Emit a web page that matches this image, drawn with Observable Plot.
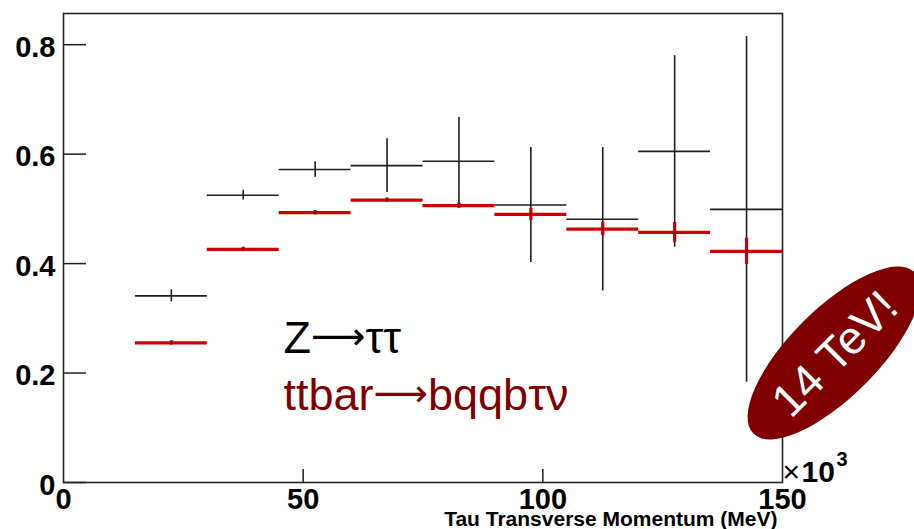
<!DOCTYPE html>
<html>
<head>
<meta charset="utf-8">
<script src="https://cdn.jsdelivr.net/npm/d3@7"></script>
<script src="https://cdn.jsdelivr.net/npm/@observablehq/plot@0.6"></script>
<style>
  html, body { margin: 0; padding: 0; background: #fff; }
  #chart { position: relative; width: 914px; height: 529px; overflow: hidden; }
  svg { display: block; }
</style>
</head>
<body>
<div id="chart"></div>
<script>
// Bin edges (×10^3 MeV)
const binLo = [15, 30, 45, 60, 75, 90, 105, 120, 135];
const binHi = [30, 45, 60, 75, 90, 105, 120, 135, 150];
// Z→ττ (black)
const zValues = [0.341, 0.525, 0.572, 0.579, 0.587, 0.507, 0.481, 0.605, 0.499];
const zErrors = [0.011, 0.009, 0.014, 0.049, 0.080, 0.105, 0.131, 0.175, 0.316];
// ttbar→bqqbτν (red)
const ttValues = [0.255, 0.426, 0.493, 0.516, 0.506, 0.490, 0.463, 0.457, 0.4225];
const ttErrors = [0.002, 0.003, 0.003, 0.004, 0.005, 0.011, 0.012, 0.018, 0.024];
// Axis ticks
const xTicks = [0, 50, 100, 150];
const xInnerTicks = [50, 100];
const yTicks = [0, 0.2, 0.4, 0.6, 0.8];
const xLabel = "Tau Transverse Momentum (MeV)";
const legendZ = "Z→ττ";
const legendTT = "ttbar→bqqbτν";

const zData = binLo.map((lo, i) => ({lo, hi: binHi[i], c: (lo + binHi[i]) / 2, v: zValues[i], e: zErrors[i]}));
const ttData = binLo.map((lo, i) => ({lo, hi: binHi[i], c: (lo + binHi[i]) / 2, v: ttValues[i], e: ttErrors[i]}));

const W = 914, H = 529;
const mL = 63, mR = 132, mT = 13, mB = 47;
const plotW = W - mL - mR, plotH = H - mT - mB;
const black = "#1e1e1e", red = "#c80000", dark = "#800000";
const font = "'Liberation Sans', Arial, Helvetica, sans-serif";

const plot = Plot.plot({
  width: W, height: H,
  marginLeft: mL, marginRight: mR, marginTop: mT, marginBottom: mB,
  style: {fontFamily: font, fontWeight: "bold", background: "#fff", color: "#000"},
  x: {domain: [0, 150]},
  y: {domain: [0, 0.857]},
  marks: [
    // inner ticks
    Plot.tickY(yTicks, {stroke: black, strokeWidth: 1.5, insetRight: plotW - 23}),
    Plot.tickX(xInnerTicks, {stroke: black, strokeWidth: 1.5, insetTop: plotH - 13}),
    // tick labels
    Plot.axisY({ticks: yTicks, tickSize: 0, tickPadding: 8, fontSize: 29, fontWeight: "bold", dy: 3,
      tickFormat: d => d === 0 ? "0" : d.toFixed(1), label: null}),
    Plot.axisX({ticks: xTicks, tickSize: 0, tickPadding: 6, fontSize: 29, fontWeight: "bold",
      tickFormat: d => String(d), label: null}),
    // Z→ττ
    Plot.ruleY(zData, {y: "v", x1: "lo", x2: "hi", stroke: black, strokeWidth: 1.6}),
    Plot.ruleX(zData, {x: "c", y1: d => d.v - d.e, y2: d => d.v + d.e, stroke: black, strokeWidth: 1.6}),
    // ttbar
    Plot.ruleY(ttData, {y: "v", x1: "lo", x2: "hi", stroke: red, strokeWidth: 3.2}),
    Plot.ruleX(ttData, {x: "c", y1: d => d.v - Math.max(d.e, 0.004), y2: d => d.v + Math.max(d.e, 0.004), stroke: red, strokeWidth: 3.2}),
    Plot.dot(ttData, {x: "c", y: "v", r: 0.9, fill: "#000", stroke: null}),
    // frame
    Plot.frame({stroke: "#222", strokeWidth: 1.6}),
    // axis title and multiplier
    Plot.text([xLabel], {frameAnchor: "bottom-right", textAnchor: "end", lineAnchor: "bottom", dx: -5, dy: 43,
      fontSize: 21, fontWeight: "bold", fill: "#000"}),
    Plot.text(["×"], {frameAnchor: "bottom-right", textAnchor: "start", lineAnchor: "bottom", dx: 0, dy: -1,
      fontSize: 30, fontWeight: "normal", fill: "#000"}),
    Plot.text(["10"], {frameAnchor: "bottom-right", textAnchor: "start", lineAnchor: "bottom", dx: 19, dy: -1,
      fontSize: 30, fontWeight: "bold", fill: "#000"}),
    Plot.text(["3"], {frameAnchor: "bottom-right", textAnchor: "start", lineAnchor: "bottom", dx: 54, dy: -17,
      fontSize: 20, fontWeight: "bold", fill: "#000"}),
    // legend texts
    Plot.text([legendZ], {frameAnchor: "top-left", textAnchor: "start", lineAnchor: "bottom", dx: 220, dy: 339,
      fontSize: 45, fontWeight: "normal", fill: "#000"}),
    Plot.text([legendTT], {frameAnchor: "top-left", textAnchor: "start", lineAnchor: "bottom", dx: 220, dy: 396,
      fontSize: 45, fontWeight: "normal", fill: dark})
  ]
});

document.getElementById("chart").appendChild(plot);

const svg = d3.select(plot);

// long thin arrows in the legend labels
svg.selectAll("text").filter(function () {
  return this.textContent === legendZ || this.textContent === legendTT;
}).each(function () {
  const parts = this.textContent.split("→");
  const sel = d3.select(this);
  sel.text(null);
  sel.append("tspan").text(parts[0]);
  sel.append("tspan").attr("font-family", "'DejaVu Sans', sans-serif").attr("font-size", 38)
    .attr("dy", -4).text("⟶");
  sel.append("tspan").attr("dy", 4).text(parts[1]);
});

// "14 TeV!" badge
const badge = svg.append("g").attr("transform", "translate(834,353) rotate(-45)");
badge.append("ellipse").attr("rx", 114).attr("ry", 44).attr("fill", dark);
badge.append("text").text("14 TeV!")
  .attr("text-anchor", "middle").attr("dy", "0.36em")
  .attr("fill", "#fff").attr("font-family", font).attr("font-weight", "normal").attr("font-size", 46);
</script>
</body>
</html>
